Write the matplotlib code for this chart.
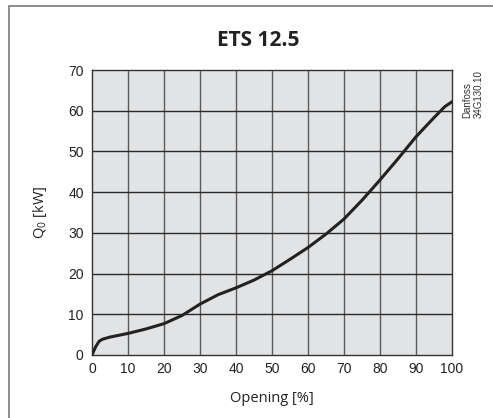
import matplotlib.pyplot as plt
from matplotlib.patches import Rectangle

# curve
opening = [0, 1, 2, 3, 5, 10, 15, 20, 25, 30, 35, 40, 45, 50, 55,
           60, 65, 70, 75, 80, 85, 90, 95, 98, 100]
q0 = [0, 2.0, 3.4, 3.9, 4.4, 5.3, 6.4, 7.7, 9.7, 12.5, 14.8, 16.5, 18.4, 20.7, 23.5,
      26.4, 29.7, 33.4, 38.0, 43.0, 48.2, 53.6, 58.3, 61.0, 62.2]
xticks = list(range(0, 101, 10))
yticks = list(range(0, 71, 10))

fig = plt.figure(figsize=(4.93, 4.18), dpi=100)
ax = fig.add_axes([92 / 493, 63 / 418, 360 / 493, 285 / 418])

# frame around the figure (left and top visible)
fig.add_artist(Rectangle((9 / 493, -0.1), 1.2, 1.1 - 6 / 418, transform=fig.transFigure,
                         fill=False, edgecolor='#7a7a7a', linewidth=1.2))

ax.set_facecolor('#e2e3e5')
ax.plot(opening, q0, color='#222222', linewidth=2.2, solid_capstyle='round', zorder=3)

ax.set_xlim(0, 100)
ax.set_ylim(0, 70)
ax.set_xticks(xticks)
ax.set_yticks(yticks)
for x in xticks[1:-1]:
    ax.axvline(x, color='#5a5a5a', linewidth=1.0, zorder=1)
for y in yticks[1:-1]:
    ax.axhline(y, color='#2a2a2a', linewidth=1.0, zorder=1)
for s in ax.spines.values():
    s.set_color('#333333')
    s.set_linewidth(1.0)

ax.tick_params(length=0, labelsize=10, labelcolor='#222222')
ax.tick_params(axis='x', pad=5)
ax.tick_params(axis='y', pad=6)
for lab in ax.get_xticklabels() + ax.get_yticklabels():
    lab.set_family('Liberation Sans')

ax.set_xlabel('Opening [%]', family='Open Sans', fontsize=10.5, color='#222222', labelpad=11)
ax.set_ylabel(r'Q$_\mathregular{0}$ [kW]', family='Open Sans', fontsize=10.5, color='#222222', labelpad=14)
fig.text(258 / 493, 1 - 40 / 418, 'ETS 12.5', family='Open Sans', fontweight='bold',
         fontsize=15, color='#222222', ha='center', va='center')

fig.text(473 / 493, 1 - 118 / 418, 'Danfoss\n34G130.10', rotation=90, family='Liberation Sans',
         fontsize=7, color='#333333', ha='center', va='bottom', multialignment='left',
         linespacing=1.15)

fig.savefig('out.png', dpi=100)
